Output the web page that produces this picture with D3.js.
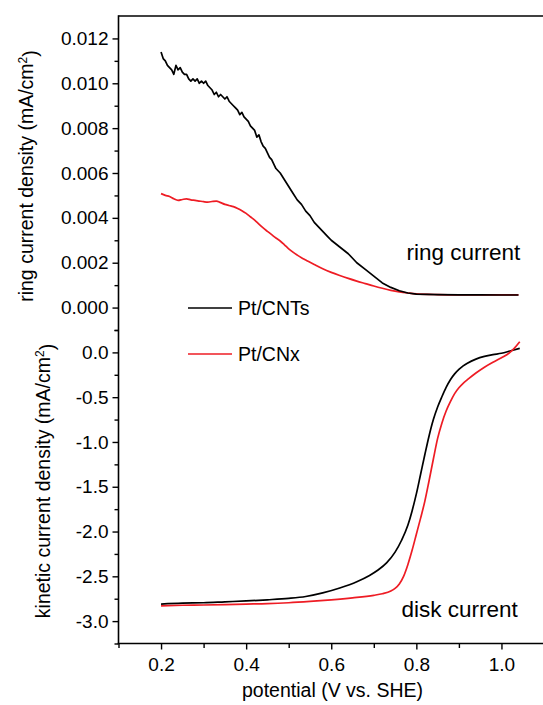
<!DOCTYPE html>
<html>
<head>
<meta charset="utf-8">
<script src="https://cdn.jsdelivr.net/npm/d3@7"></script>
<style>
  html, body { margin: 0; padding: 0; background: #fff; }
  svg { display: block; }
  text { font-family: "Liberation Sans", Arial, sans-serif; fill: #000; }
</style>
</head>
<body>
<svg id="chart" width="543" height="705"></svg>
<script>
// ---------------- data ----------------
const seriesNames = ["Pt/CNTs", "Pt/CNx"];
const seriesColors = ["#000000", "#ee1c24"];

// ring current (mA/cm2) vs potential (V vs. SHE)
const ringPotentialCNTs = [0.200,0.205,0.210,0.215,0.220,0.225,0.230,0.235,0.240,0.245,0.250,0.255,0.260,0.265,0.270,0.275,0.280,0.285,0.290,0.295,0.300,0.305,0.310,0.315,0.320,0.325,0.330,0.335,0.340,0.345,0.350,0.355,0.360,0.365,0.370,0.375,0.380,0.385,0.390,0.395,0.400,0.405,0.410,0.415,0.420,0.425,0.430,0.435,0.440,0.445,0.450,0.455,0.460,0.465,0.470,0.475,0.480,0.490,0.500,0.510,0.520,0.530,0.540,0.550,0.560,0.570,0.580,0.590,0.600,0.620,0.640,0.660,0.680,0.700,0.720,0.740,0.760,0.780,0.800,0.850,0.900,0.950,1.000,1.040];
const ringCNTs = [0.0114,0.0111,0.0110,0.0108,0.0107,0.0106,0.0104,0.0108,0.0106,0.0107,0.0105,0.0104,0.0104,0.0102,0.0101,0.0102,0.0101,0.0102,0.0100,0.0101,0.0100,0.0101,0.0099,0.0098,0.0097,0.0095,0.0096,0.0094,0.0095,0.0094,0.0093,0.0094,0.0092,0.0091,0.0090,0.0089,0.0088,0.0086,0.0087,0.0085,0.0084,0.0083,0.0081,0.0080,0.0079,0.0076,0.0077,0.0074,0.0072,0.0071,0.0069,0.0067,0.0066,0.0064,0.0062,0.0061,0.0060,0.0057,0.0054,0.0051,0.0048,0.0046,0.0043,0.0041,0.0038,0.0036,0.0034,0.0032,0.0030,0.0027,0.0024,0.0020,0.0017,0.0014,0.0011,0.0009,0.00075,0.00065,0.0006,0.00058,0.00057,0.00057,0.00056,0.00056];

const ringPotentialCNx = [0.200,0.210,0.220,0.230,0.240,0.250,0.260,0.270,0.280,0.290,0.300,0.310,0.320,0.330,0.340,0.350,0.360,0.370,0.380,0.390,0.400,0.410,0.420,0.430,0.440,0.450,0.460,0.470,0.480,0.490,0.500,0.510,0.520,0.530,0.540,0.560,0.580,0.600,0.620,0.640,0.660,0.680,0.700,0.720,0.740,0.760,0.780,0.800,0.850,0.900,1.000,1.040];
const ringCNx = [0.00508,0.00500,0.00495,0.00485,0.00478,0.00482,0.00485,0.00480,0.00478,0.00475,0.00472,0.00470,0.00473,0.00475,0.00468,0.00460,0.00455,0.00450,0.00442,0.00432,0.00420,0.00405,0.00390,0.00372,0.00355,0.00340,0.00325,0.00310,0.00297,0.00280,0.00262,0.00247,0.00234,0.00222,0.00212,0.00192,0.00173,0.00157,0.00143,0.00130,0.00118,0.00107,0.00096,0.00086,0.00077,0.00070,0.00065,0.00061,0.00058,0.00057,0.00057,0.00057];

// disk (kinetic) current (mA/cm2) vs potential
const diskPotentialCNTs = [0.200,0.250,0.300,0.350,0.400,0.450,0.500,0.540,0.580,0.620,0.660,0.690,0.710,0.730,0.750,0.765,0.780,0.790,0.800,0.810,0.820,0.830,0.840,0.850,0.860,0.870,0.880,0.890,0.900,0.910,0.920,0.940,0.960,0.980,1.000,1.020,1.043];
const diskCNTs = [-2.81,-2.80,-2.795,-2.785,-2.775,-2.762,-2.746,-2.725,-2.685,-2.63,-2.56,-2.49,-2.43,-2.35,-2.23,-2.10,-1.93,-1.77,-1.58,-1.36,-1.14,-0.93,-0.75,-0.61,-0.495,-0.39,-0.305,-0.24,-0.19,-0.15,-0.12,-0.075,-0.045,-0.025,-0.01,0.015,0.045];

const diskPotentialCNx = [0.200,0.250,0.300,0.350,0.400,0.450,0.500,0.550,0.600,0.650,0.700,0.720,0.740,0.750,0.760,0.770,0.780,0.790,0.800,0.810,0.820,0.830,0.840,0.850,0.860,0.870,0.880,0.890,0.900,0.910,0.920,0.940,0.960,0.980,1.000,1.020,1.030,1.043];
const diskCNx = [-2.83,-2.823,-2.82,-2.815,-2.81,-2.805,-2.795,-2.78,-2.762,-2.74,-2.712,-2.695,-2.665,-2.635,-2.585,-2.50,-2.37,-2.21,-2.03,-1.85,-1.66,-1.43,-1.19,-0.96,-0.79,-0.655,-0.55,-0.46,-0.395,-0.345,-0.305,-0.23,-0.165,-0.11,-0.06,0.0,0.045,0.118];

const xTickValues = [0.2, 0.4, 0.6, 0.8, 1.0];
const ringTickValues = [0.000, 0.002, 0.004, 0.006, 0.008, 0.010, 0.012];
const diskTickValues = [-3.0, -2.5, -2.0, -1.5, -1.0, -0.5, 0.0];

const xTitle = "potential (V vs. SHE)";
const ringTitle = "ring current density (mA/cm";
const diskTitle = "kinetic current density (mA/cm";

// ---------------- layout ----------------
const svg = d3.select("#chart");
const padL = 118.5, padR = 544, padT = 16, padMid = 330, padB = 643.5;

const x = d3.scaleLinear().domain([0.1, 1.1]).range([padL, padR]);
const yRing = d3.scaleLinear().domain([-0.001, 0.013]).range([padMid, padT]);
const yDisk = d3.scaleLinear().domain([-3.25, 0.25]).range([padB, padMid]);

const tickFont = "19px";
const fontFam = '"Liberation Sans", Arial, sans-serif';

// frame: top line
svg.append("line").attr("x1", padL).attr("x2", 543).attr("y1", padT).attr("y2", padT)
  .attr("stroke", "#000").attr("stroke-width", 1.6);

// left axes
function leftAxis(scale, majors, minors, fmt) {
  const g = svg.append("g").attr("transform", `translate(${padL},0)`);
  g.call(d3.axisLeft(scale).tickValues(majors).tickFormat(fmt).tickSize(6).tickPadding(4));
  g.append("g").call(d3.axisLeft(scale).tickValues(minors).tickFormat("").tickSize(4));
  g.selectAll(".domain").remove();
  g.selectAll("line").attr("stroke", "#000").attr("stroke-width", 1.4);
  g.selectAll("text").style("font-size", tickFont).style("font-family", fontFam).attr("fill", "#000");
  return g;
}
const ringMinors = d3.range(-0.001, 0.0125, 0.002);
const diskMinors = d3.range(-3.25, 0.3, 0.5);
leftAxis(yRing, ringTickValues, ringMinors, d3.format(".3f"));
leftAxis(yDisk, diskTickValues, diskMinors, d => d3.format(".1f")(d).replace("\u2212", "-"));
svg.append("line").attr("x1", padL).attr("x2", padL).attr("y1", padT - 0.8).attr("y2", padB + 0.8)
  .attr("stroke", "#000").attr("stroke-width", 1.6);

// bottom axis
const gx = svg.append("g").attr("transform", `translate(0,${padB})`);
gx.call(d3.axisBottom(x).tickValues(xTickValues).tickFormat(d3.format(".1f")).tickSize(6).tickPadding(8));
gx.append("g").call(d3.axisBottom(x).tickValues([0.1, 0.3, 0.5, 0.7, 0.9]).tickFormat("").tickSize(4.5));
gx.selectAll(".domain").remove();
gx.selectAll("line").attr("stroke", "#000").attr("stroke-width", 1.4);
gx.selectAll("text").style("font-size", tickFont).style("font-family", fontFam).attr("fill", "#000");
svg.append("line").attr("x1", padL - 0.8).attr("x2", 543).attr("y1", padB).attr("y2", padB)
  .attr("stroke", "#000").attr("stroke-width", 1.6);

// axis titles
svg.append("text").attr("x", 332.5).attr("y", 697)
  .attr("text-anchor", "middle").style("font-size", "19.5px").text(xTitle);

function yTitle(txt, cx, cy) {
  const t = svg.append("text").attr("transform", `translate(${cx},${cy}) rotate(-90)`)
    .attr("text-anchor", "middle").style("font-size", "19.5px");
  t.append("tspan").text(txt);
  t.append("tspan").attr("dy", "-0.5em").style("font-size", "12px").text("2");
  t.append("tspan").attr("dy", "0.5em").text(")");
}
yTitle(ringTitle, 33, 176);
yTitle(diskTitle, 50, 481);

// curves
const ringLine = d3.line().x(d => x(d[0])).y(d => yRing(d[1]));
const diskLine = d3.line().x(d => x(d[0])).y(d => yDisk(d[1])).curve(d3.curveMonotoneX);
const ringSmooth = d3.line().x(d => x(d[0])).y(d => yRing(d[1])).curve(d3.curveMonotoneX);

const plot = svg.append("g");
plot.append("path").datum(d3.zip(ringPotentialCNx, ringCNx))
  .attr("d", ringSmooth).attr("fill", "none").attr("stroke", seriesColors[1]).attr("stroke-width", 1.7);
plot.append("path").datum(d3.zip(ringPotentialCNTs, ringCNTs))
  .attr("d", ringLine).attr("fill", "none").attr("stroke", seriesColors[0]).attr("stroke-width", 1.7)
  .attr("stroke-linejoin", "round");
plot.append("path").datum(d3.zip(diskPotentialCNTs, diskCNTs))
  .attr("d", diskLine).attr("fill", "none").attr("stroke", seriesColors[0]).attr("stroke-width", 1.7);
plot.append("path").datum(d3.zip(diskPotentialCNx, diskCNx))
  .attr("d", diskLine).attr("fill", "none").attr("stroke", seriesColors[1]).attr("stroke-width", 1.7);

// annotations
svg.append("text").attr("x", 406.5).attr("y", 260).style("font-size", "22.5px").text("ring current");
svg.append("text").attr("x", 401.5).attr("y", 616.5).style("font-size", "22.5px").text("disk current");

// legend
const legendY = [308, 354];
seriesNames.forEach((name, i) => {
  svg.append("line").attr("x1", 188).attr("x2", 232).attr("y1", legendY[i]).attr("y2", legendY[i])
    .attr("stroke", seriesColors[i]).attr("stroke-width", 1.7);
  svg.append("text").attr("x", 238).attr("y", legendY[i] + 6.5).style("font-size", "19.5px").text(name);
});
</script>
</body>
</html>
